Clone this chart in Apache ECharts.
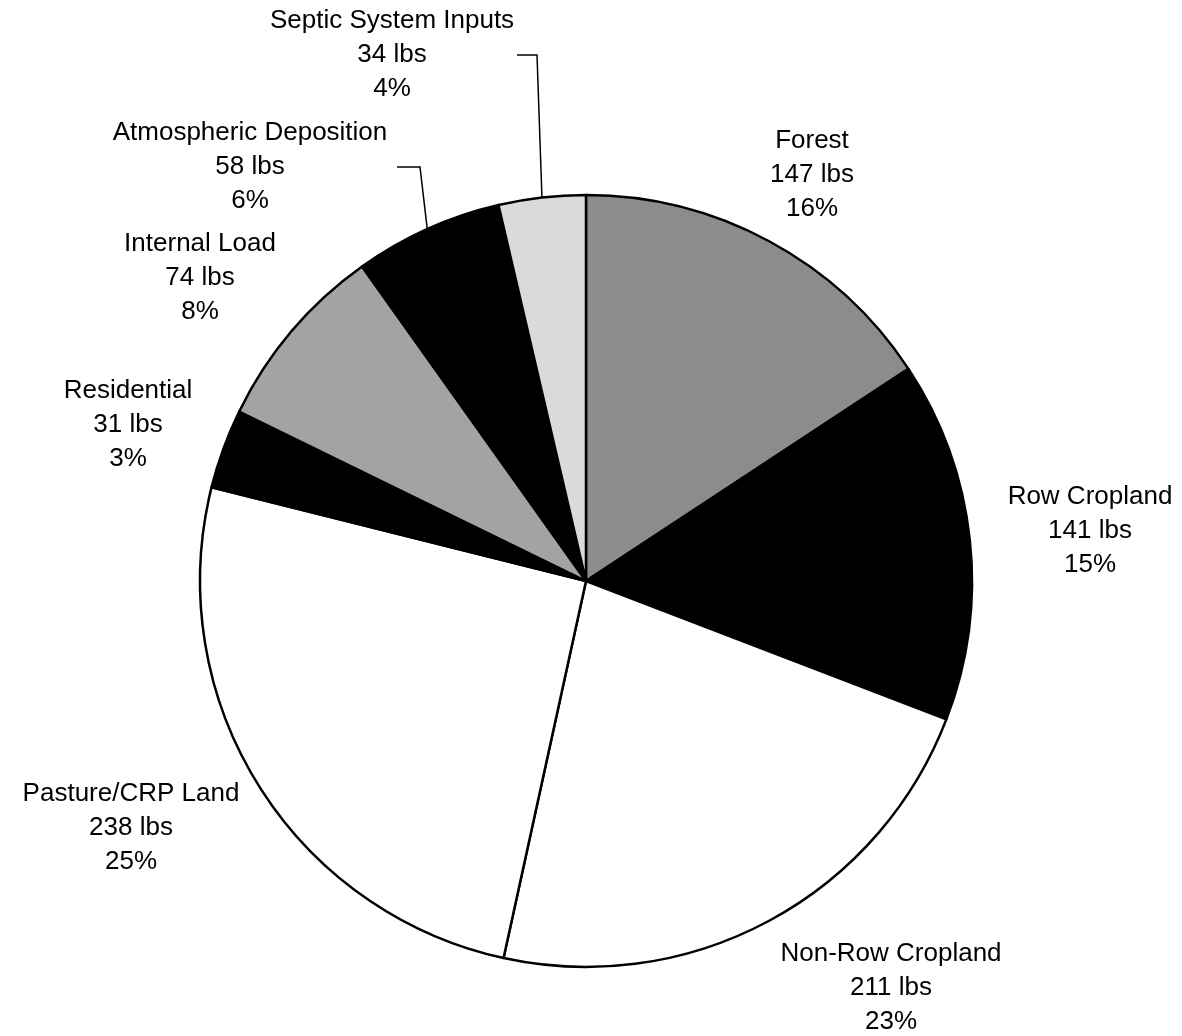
<!DOCTYPE html>
<html>
<head>
<meta charset="utf-8">
<script src="https://cdn.jsdelivr.net/npm/echarts@6/dist/echarts.min.js"></script>
<style>
    html, body { margin: 0; padding: 0; background: #fff; }
    #chart { width: 1182px; height: 1036px; }
</style>
</head>
<body>
<div id="chart"></div>
<script>
// loads in lbs, clockwise from 12 o'clock
const categories = ['Forest', 'Row Cropland', 'Non-Row Cropland', 'Pasture/CRP Land',
    'Residential', 'Internal Load', 'Atmospheric Deposition', 'Septic System Inputs'];
const loads = [147, 141, 211, 238, 31, 74, 58, 34];

const sliceColors = ['#8c8c8c', '#000000', '#ffffff', '#ffffff', '#000000', '#a3a3a3', '#000000', '#dadada'];
// label block centres
const labelPos = [[812, 175], [1090, 531], [891, 988], [131, 828], [128, 425], [200, 278], [250, 167], [392, 55]];
// labels that have a leader line: horizontal stub start offset from label centre
const leader = { 6: [147, 170], 7: [125, 145] };

const chartDom = document.getElementById('chart');
const chart = echarts.init(chartDom);

const data = categories.map(function (name, i) {
    return {
        name: name,
        value: loads[i],
        itemStyle: { color: sliceColors[i] },
        labelLine: { show: !!leader[i] }
    };
});

chart.setOption({
    animation: false,
    series: [{
        type: 'pie',
        center: [586, 581],
        radius: 386,
        startAngle: 90,
        clockwise: true,
        percentPrecision: 0,
        data: data,
        itemStyle: { borderColor: '#000', borderWidth: 2.5 },
        label: {
            show: true,
            position: 'outside',
            overflow: 'none',
            fontFamily: 'Liberation Sans, Arial, sans-serif',
            fontSize: 26,
            lineHeight: 34,
            color: '#000',
            align: 'center',
            formatter: function (p) {
                return p.name + '\n' + p.value + ' lbs\n' + Math.round(p.percent) + '%';
            }
        },
        labelLine: {
            show: true,
            lineStyle: { color: '#000', width: 1.5 }
        },
        labelLayout: function (params) {
            const i = params.dataIndex;
            const pos = labelPos[i];
            const out = { x: pos[0], y: pos[1], align: 'center', verticalAlign: 'middle' };
            if (leader[i] && params.labelLinePoints) {
                const edge = params.labelLinePoints[0];
                out.labelLinePoints = [
                    edge,
                    [pos[0] + leader[i][1], pos[1]],
                    [pos[0] + leader[i][0], pos[1]]
                ];
            }
            return out;
        }
    }]
});
</script>
</body>
</html>
